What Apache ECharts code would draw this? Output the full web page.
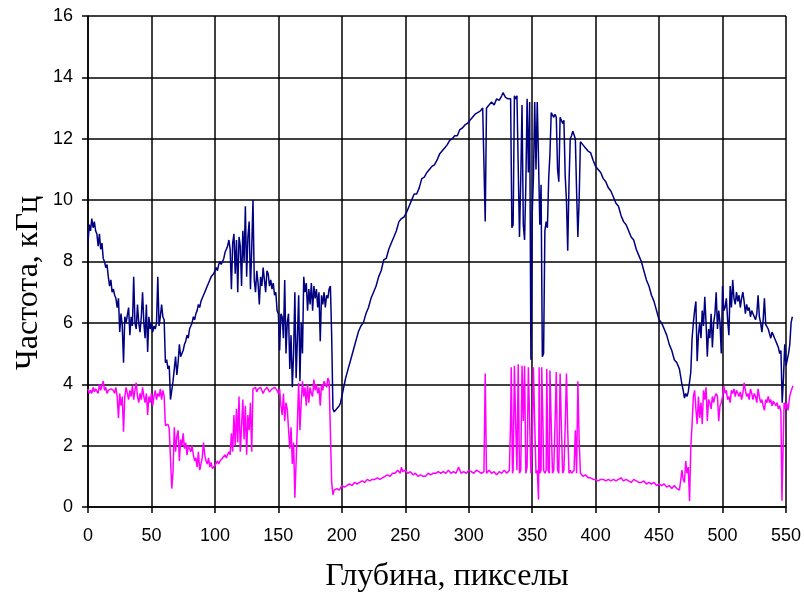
<!DOCTYPE html>
<html>
<head>
<meta charset="utf-8">
<script src="https://cdn.jsdelivr.net/npm/echarts@6/dist/echarts.min.js"></script>
<style>
  html, body { margin: 0; padding: 0; background: #fff; }
  #chart { width: 804px; height: 594px; }
</style>
</head>
<body>
<div id="chart"></div>
<script>
// оси
const xTicks = { min: 0, max: 550, step: 50 };
const yTicks = { min: 0, max: 16, step: 2 };
const xDataMax = 556; // данные чуть выходят за последнюю линию сетки
const xTitle = 'Глубина, пикселы';
const yTitle = 'Частота, кГц';

// синяя кривая: [глубина, частота]
const blueData = [
  [0,8.6],[1,9.2],[2,9.0],[3,9.4],[4,9.1],[5,9.3],[6,9.0],[7,8.9],[8,8.5],[9,8.9],
  [10,8.4],[11,8.6],[12,8.1],[13,8.0],[14,7.8],[15,7.9],[16,7.5],[17,7.2],[18,7.4],[19,7.0],
  [20,7.1],[21,6.9],[22,6.8],[23,6.5],[24,6.8],[25,5.7],[26,6.3],[27,5.9],[28,4.7],[29,6.2],
  [30,6.0],[31,6.0],[32,6.5],[33,5.6],[34,6.2],[35,5.9],[36,7.5],[37,6.0],[38,5.8],[39,6.6],
  [40,6.0],[41,5.7],[42,6.2],[43,7.0],[44,6.0],[45,5.5],[46,6.6],[47,5.05],[48,6.2],[49,5.8],
  [50,6.0],[51,5.7],[52,5.9],[53,5.8],[54,6.0],[55,7.5],[56,5.9],[57,6.2],[58,6.6],[59,6.2],
  [60,6.1],[61,4.7],[62,4.8],[63,4.5],[64,4.6],[65,3.5],[66,3.8],[67,4.1],[68,4.5],[69,4.9],
  [70,4.3],[71,4.7],[72,5.3],[73,4.9],[74,5.0],[75,5.1],[76,5.3],[77,5.4],[78,5.6],[79,5.5],
  [80,5.8],[81,5.9],[82,6.0],[83,6.2],[84,6.1],[85,6.3],[86,6.4],[87,6.6],[88,6.5],[89,6.7],
  [90,6.8],[91,6.9],[92,7.0],[93,7.1],[94,7.2],[95,7.2],[96,7.4],[97,7.5],[98,7.5],[99,7.6],
  [100,7.7],[101,7.8],[102,7.7],[103,7.9],[104,8.0],[105,7.9],[106,8.0],[107,8.1],[108,8.3],[109,8.4],
  [110,8.5],[111,8.7],[112,8.4],[113,7.1],[114,8.6],[115,8.9],[116,7.6],[117,8.7],[118,7.0],[119,8.8],
  [120,8.5],[121,7.2],[122,9.0],[123,8.0],[124,9.8],[125,7.5],[126,8.8],[127,9.3],[128,7.1],[129,8.4],
  [130,10.0],[131,7.4],[132,7.0],[133,7.7],[134,7.3],[135,6.6],[136,7.5],[137,7.2],[138,7.8],[139,7.4],
  [140,7.0],[141,7.7],[142,7.6],[143,7.2],[144,7.4],[145,7.1],[146,7.3],[147,6.9],[148,7.0],[149,6.4],
  [150,6.3],[151,5.1],[152,6.3],[153,6.2],[154,5.5],[155,7.4],[156,5.0],[157,6.0],[158,6.3],[159,4.5],
  [160,5.6],[161,3.9],[162,5.0],[163,7.0],[164,4.2],[165,5.5],[166,6.9],[167,4.1],[168,6.0],[169,5.0],
  [170,7.5],[171,7.0],[172,7.3],[173,6.4],[174,7.1],[175,6.6],[176,7.3],[177,6.4],[178,7.2],[179,6.8],
  [180,7.1],[181,6.5],[182,7.0],[183,5.4],[184,6.9],[185,6.6],[186,7.0],[187,6.5],[188,6.9],[189,6.8],
  [190,7.1],[191,7.2],[192,5.6],[193,3.2],[194,3.1],[195,3.1],[196,3.2],[197,3.2],[198,3.3],[199,3.4],
  [200,3.6],[201,3.8],[202,4.0],[203,4.2],[205,4.5],[207,4.8],[209,5.1],[211,5.4],[213,5.7],[215,5.9],
  [217,6.0],[219,6.3],[221,6.5],[223,6.8],[225,7.0],[227,7.2],[229,7.5],[231,7.7],[233,8.05],[235,8.1],
  [237,8.4],[239,8.6],[241,8.8],[243,9.0],[245,9.3],[247,9.4],[249,9.45],[251,9.6],[253,9.8],[255,10.0],
  [257,10.2],[259,10.2],[261,10.4],[263,10.7],[265,10.75],[267,10.9],[269,11.0],[271,11.1],[273,11.15],[275,11.3],
  [277,11.5],[279,11.6],[281,11.7],[283,11.8],[285,11.95],[287,12.0],[289,12.1],[291,12.1],[293,12.3],[295,12.35],
  [297,12.45],[299,12.5],[301,12.6],[303,12.7],[305,12.8],[307,12.85],[309,12.9],[311,13.0],[312,13.0],[313,9.3],
  [314,13.0],[316,13.1],[318,13.2],[320,13.1],[322,13.3],[324,13.25],[326,13.4],[327,13.5],[329,13.35],[331,13.3],
  [333,13.3],[334,9.1],[335,9.2],[336,13.4],[337,13.3],[338,13.4],[339,13.35],[340,8.8],[341,10.7],[342,13.1],
  [343,9.2],[344,8.7],[345,10.5],[346,13.3],[347,10.9],[348,13.2],[349,4.8],[350,9.5],[351,10.8],[352,13.2],
  [353,11.0],[354,13.2],[355,11.3],[356,9.2],[357,10.5],[358,4.9],[359,5.0],[360,9.0],[361,9.3],[362,9.1],
  [363,10.7],[364,11.5],[365,12.85],[366,12.9],[367,12.7],[368,12.8],[369,12.7],[370,11.0],[371,10.6],[372,12.7],
  [373,12.6],[374,12.5],[375,12.6],[376,10.8],[377,10.0],[378,8.35],[379,10.5],[380,12.0],[381,12.1],[382,12.25],
  [383,12.2],[384,12.0],[385,10.3],[386,8.8],[387,10.0],[388,11.9],[390,11.8],[392,11.7],[394,11.6],[396,11.55],
  [398,11.3],[400,11.1],[402,11.0],[404,10.9],[406,10.7],[408,10.6],[410,10.4],[412,10.3],[414,10.1],[416,9.9],
  [418,9.8],[420,9.5],[422,9.3],[424,9.2],[426,9.0],[428,8.8],[430,8.7],[432,8.4],[434,8.2],[436,8.0],
  [438,7.7],[440,7.4],[442,7.2],[444,6.9],[446,6.7],[448,6.4],[450,6.1],[452,6.0],[454,5.8],[456,5.6],
  [458,5.3],[460,5.1],[462,4.8],[464,4.7],[466,4.5],[468,4.0],[469,3.8],[470,3.55],[471,3.7],[472,3.6],
  [473,3.75],[474,3.7],[475,4.4],[476,5.5],[477,6.0],[478,6.4],[479,6.7],[480,4.75],[481,5.6],[482,6.0],
  [483,5.5],[484,6.4],[485,5.9],[486,6.85],[487,6.0],[488,4.9],[489,5.8],[490,5.5],[491,6.3],[492,5.2],
  [493,6.0],[494,6.3],[495,7.0],[496,5.8],[497,6.4],[498,6.0],[499,5.0],[500,7.2],[501,6.4],[502,6.5],
  [503,6.8],[504,6.1],[505,5.6],[506,7.2],[507,6.5],[508,7.4],[509,6.8],[510,6.6],[511,7.0],[512,6.7],
  [513,6.9],[514,6.5],[515,6.8],[516,7.0],[517,6.7],[518,6.3],[519,6.6],[520,6.4],[521,6.5],[522,6.2],
  [523,6.4],[524,6.3],[525,6.2],[526,6.1],[527,6.3],[528,6.9],[529,6.2],[530,6.0],[531,5.7],[532,6.1],
  [533,6.8],[534,5.95],[535,6.0],[536,5.8],[537,5.85],[538,5.5],[539,5.7],[540,5.6],[541,5.5],[542,5.4],
  [543,5.3],[544,5.2],[545,5.0],[546,5.1],[547,3.4],[548,4.2],[549,5.3],[550,4.6],[551,4.55],[552,5.0],
  [553,5.3],[554,6.0],[555,6.2]
];

// розовая кривая: [глубина, частота]
const pinkData = [
  [0,3.85],[1,3.7],[2,3.8],[3,3.7],[4,3.9],[5,3.75],[6,3.85],[7,3.8],[8,3.7],[9,4.0],
  [10,3.8],[11,3.75],[12,4.1],[13,3.8],[14,3.9],[15,3.7],[16,3.8],[17,3.75],[18,3.85],[19,3.9],
  [20,3.8],[21,3.7],[22,3.9],[23,3.6],[24,2.9],[25,3.7],[26,3.3],[27,3.6],[28,2.45],[29,3.6],
  [30,3.9],[31,3.7],[32,3.5],[33,3.8],[34,3.6],[35,3.95],[36,3.5],[37,3.8],[38,4.05],[39,3.6],
  [40,3.4],[41,3.7],[42,3.5],[43,3.9],[44,3.6],[45,3.4],[46,3.7],[47,3.0],[48,3.6],[49,3.4],
  [50,3.7],[51,3.3],[52,3.6],[53,3.8],[54,3.5],[55,3.7],[56,3.6],[57,3.85],[58,3.5],[59,3.8],
  [60,3.6],[61,2.65],[62,2.6],[63,2.7],[64,2.55],[65,2.6],[66,0.6],[67,1.15],[68,2.6],[69,1.8],
  [70,2.3],[71,2.5],[72,1.5],[73,2.2],[74,2.0],[75,2.4],[76,1.9],[77,2.1],[78,1.7],[79,2.0],
  [80,1.9],[81,1.8],[82,2.0],[83,1.7],[84,1.5],[85,1.6],[86,1.3],[87,1.8],[88,1.2],[89,1.4],
  [90,1.6],[91,2.1],[92,1.7],[93,1.5],[94,1.4],[95,1.6],[96,1.3],[97,1.45],[98,1.25],[99,1.3],
  [100,1.35],[101,1.3],[102,1.5],[103,1.4],[104,1.5],[105,1.45],[106,1.6],[107,1.55],[108,1.7],[109,1.6],
  [110,1.7],[111,1.8],[112,1.7],[113,2.4],[114,1.8],[115,3.0],[116,2.0],[117,3.2],[118,2.1],[119,3.6],
  [120,1.8],[121,2.6],[122,3.5],[123,2.2],[124,3.3],[125,1.7],[126,3.0],[127,2.5],[128,3.4],[129,1.8],
  [130,3.85],[131,3.8],[132,3.9],[133,3.75],[134,3.85],[135,3.8],[136,3.9],[137,3.85],[138,3.7],[139,3.8],
  [141,3.9],[143,3.75],[145,3.85],[147,3.9],[149,3.8],[150,3.7],[151,3.85],[152,3.3],[153,3.0],[154,3.7],
  [155,2.8],[156,3.4],[157,3.2],[158,2.55],[159,1.9],[160,2.6],[161,1.4],[162,2.1],[163,0.3],[164,1.5],
  [165,2.7],[166,4.05],[167,2.5],[168,3.4],[169,4.1],[170,3.6],[171,3.9],[172,3.3],[173,4.0],[174,3.4],
  [175,3.9],[176,3.7],[177,3.6],[178,4.15],[179,3.8],[180,4.0],[181,3.7],[182,3.9],[183,3.3],[184,4.0],
  [185,3.8],[186,4.1],[187,4.1],[188,3.9],[189,4.2],[190,4.1],[191,4.1],[192,0.8],[193,0.4],[194,0.55],
  [195,0.5],[196,0.6],[198,0.55],[200,0.7],[202,0.65],[204,0.7],[206,0.75],[208,0.7],[210,0.8],[212,0.75],
  [214,0.8],[216,0.85],[218,0.8],[220,0.9],[222,0.85],[224,0.9],[226,0.9],[228,0.95],[230,0.9],[232,0.95],
  [234,1.0],[236,1.05],[238,1.0],[240,1.1],[242,1.1],[244,1.2],[246,1.1],[247,1.3],[248,1.15],[250,1.2],
  [252,1.1],[254,1.15],[256,1.05],[258,1.1],[260,1.0],[262,1.05],[264,1.0],[266,1.0],[268,1.1],[270,1.05],
  [272,1.1],[274,1.1],[276,1.15],[278,1.1],[280,1.15],[282,1.1],[284,1.2],[286,1.1],[288,1.15],[290,1.1],
  [292,1.3],[294,1.1],[296,1.15],[298,1.1],[300,1.2],[302,1.15],[304,1.1],[306,1.2],[308,1.15],[310,1.1],
  [312,1.15],[313,4.35],[314,1.1],[316,1.2],[318,1.1],[320,1.15],[322,1.05],[324,1.15],[326,1.1],[328,1.2],
  [330,1.1],[332,1.2],[333,2.8],[333.5,4.55],[334.5,1.1],[335,1.2],[336,4.6],[337,2.7],[338,1.2],[339,4.65],
  [340,1.1],[341,1.2],[342,4.6],[343,2.8],[344,4.6],[345,1.1],[346,1.3],[347,4.55],[348,2.8],[349,1.1],
  [350,2.0],[351,4.55],[352,2.7],[353,1.1],[354,1.2],[355,0.24],[355.5,4.55],[356,1.1],[357,1.2],[357.5,4.55],
  [358.5,2.7],[359,1.2],[360,1.1],[361,1.2],[361.5,4.5],[362.5,1.2],[363.5,1.1],[364,4.45],[365,2.7],[366,1.1],
  [367,1.2],[368,2.7],[369,4.4],[370,1.2],[371,1.1],[372,4.35],[373,2.6],[374,1.1],[375,1.2],[376,2.6],
  [377,4.35],[378,2.5],[379,1.1],[380,1.2],[381,1.1],[383,1.2],[384,2.5],[385,1.1],[386,4.1],[387,2.2],
  [388,1.1],[389,1.05],[390,1.0],[392,1.05],[394,0.95],[396,0.95],[398,0.9],[400,0.9],[402,0.85],[404,0.9],
  [406,0.9],[408,0.85],[410,0.9],[412,0.85],[414,0.9],[416,0.85],[418,0.9],[420,0.95],[422,0.85],[424,0.9],
  [426,0.85],[428,0.8],[430,0.9],[432,0.85],[434,0.8],[436,0.8],[438,0.85],[440,0.75],[442,0.8],[444,0.75],
  [446,0.8],[448,0.7],[450,0.75],[452,0.7],[454,0.75],[456,0.65],[458,0.7],[460,0.6],[462,0.7],[464,0.6],
  [466,0.55],[467,0.85],[468,1.2],[469,0.9],[470,0.8],[471,1.5],[472,1.1],[473,1.3],[474,0.2],[475,1.95],
  [476,2.7],[477,3.6],[478,3.8],[479,3.2],[480,2.7],[481,3.6],[482,2.9],[483,3.4],[484,2.7],[485,3.8],
  [486,3.5],[487,3.9],[488,2.8],[489,3.5],[490,3.4],[491,3.2],[492,3.6],[493,3.4],[494,3.6],[495,3.7],
  [496,3.6],[497,2.8],[498,3.3],[499,3.4],[500,3.6],[501,3.95],[502,3.7],[503,3.8],[504,3.5],[505,3.6],
  [506,3.4],[507,3.8],[508,3.7],[509,3.85],[510,3.6],[511,3.8],[512,3.7],[513,3.6],[514,3.75],[515,3.5],
  [516,3.7],[517,4.05],[518,3.8],[519,3.6],[520,3.7],[521,3.5],[522,3.85],[523,3.7],[524,3.5],[525,3.7],
  [526,3.6],[527,3.4],[528,3.85],[529,3.6],[530,3.4],[531,3.5],[532,3.3],[533,3.15],[534,3.5],[535,3.4],
  [536,3.6],[537,3.4],[538,3.5],[539,3.3],[540,3.45],[541,3.4],[542,3.3],[543,3.4],[544,3.2],[545,3.3],
  [546,3.1],[546.8,0.2],[547.6,1.7],[548.5,3.4],[549.5,3.2],[550.5,3.4],[551.6,3.15],[552.9,3.6],[554.2,3.8],[555.5,3.95]
];

const chart = echarts.init(document.getElementById('chart'));

const labelFont = { color: '#000', fontFamily: '"Liberation Sans", Arial, sans-serif', fontSize: 18 };
const titleFont = '32px "Liberation Serif", "Times New Roman", serif';

// видимая сетка: 0..550 на 698 px; кривые рисуются в соседней сетке той же шкалы до 556
const plotLeft = 88, plotRight = 18;
const plotWidth = 804 - plotLeft - plotRight;
const dataRight = 804 - plotLeft - plotWidth * xDataMax / xTicks.max;

const option = {
  animation: false,
  backgroundColor: '#fff',
  grid: [
    { left: plotLeft, right: plotRight, top: 16, bottom: 87 },
    { left: plotLeft, right: dataRight, top: 16, bottom: 87 }
  ],
  xAxis: [
    {
      type: 'value',
      gridIndex: 0,
      min: xTicks.min,
      max: xTicks.max,
      interval: xTicks.step,
      axisLine: { lineStyle: { color: '#000', width: 1.5 } },
      axisTick: { show: true, length: 6, lineStyle: { color: '#000', width: 1.5 } },
      axisLabel: Object.assign({ margin: 20 }, labelFont),
      splitLine: { show: true, lineStyle: { color: '#000', width: 1.5 } }
    },
    {
      type: 'value',
      gridIndex: 1,
      min: xTicks.min,
      max: xDataMax,
      show: false
    }
  ],
  yAxis: [
    {
      type: 'value',
      gridIndex: 0,
      min: yTicks.min,
      max: yTicks.max,
      interval: yTicks.step,
      axisLine: { show: true, lineStyle: { color: '#000', width: 1.5 } },
      axisTick: { show: true, length: 6, lineStyle: { color: '#000', width: 1.5 } },
      axisLabel: Object.assign({ margin: 15 }, labelFont),
      splitLine: { show: true, lineStyle: { color: '#000', width: 1.5 } }
    },
    {
      type: 'value',
      gridIndex: 1,
      min: yTicks.min,
      max: yTicks.max,
      show: false
    }
  ],
  graphic: [
    {
      type: 'text',
      x: 447, y: 577,
      style: { text: xTitle, font: titleFont, fill: '#000', textAlign: 'center', textVerticalAlign: 'middle' }
    },
    {
      type: 'text',
      x: 29, y: 283,
      rotation: Math.PI / 2,
      style: { text: yTitle, font: titleFont, fill: '#000', textAlign: 'center', textVerticalAlign: 'middle' }
    }
  ],
  series: [
    {
      name: 'pink',
      type: 'line',
      xAxisIndex: 1,
      yAxisIndex: 1,
      data: pinkData,
      showSymbol: false,
      clip: false,
      lineStyle: { color: '#ff00ff', width: 1.5 }
    },
    {
      name: 'blue',
      type: 'line',
      xAxisIndex: 1,
      yAxisIndex: 1,
      data: blueData,
      showSymbol: false,
      clip: false,
      lineStyle: { color: '#000080', width: 1.5 }
    }
  ]
};

chart.setOption(option);
</script>
</body>
</html>
